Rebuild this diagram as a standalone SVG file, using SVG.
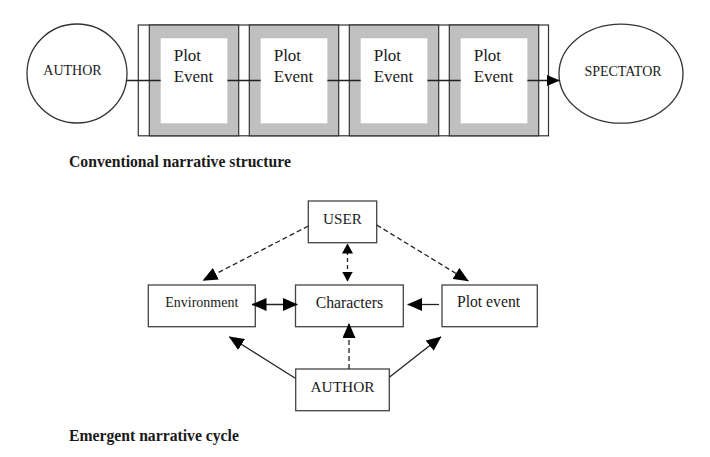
<svg xmlns="http://www.w3.org/2000/svg" width="710" height="457" viewBox="0 0 710 457">
<style>
.t{font-family:"Liberation Serif","Times New Roman",serif;fill:#1a1a1a}
.cap{font-family:"Liberation Serif","Times New Roman",serif;font-weight:bold;font-size:15.7px;fill:#1a1a1a}
.box{fill:#fff;stroke:#444;stroke-width:1.3}
.ell{fill:#fff;stroke:#333;stroke-width:1.3}
.panel{fill:#c0c0c0;stroke:#333;stroke-width:1.2}
.inner{fill:#fff;stroke:none}
.ln{fill:none;stroke:#222;stroke-width:1.3}
.dash{stroke-dasharray:5,3}
.dashs{stroke-dasharray:4,3}
</style>
<defs>
<marker id="arr" viewBox="0 0 15 13" markerWidth="15" markerHeight="13" refX="14.5" refY="6.5" orient="auto-start-reverse" markerUnits="userSpaceOnUse"><path d="M0,0 L15,6.5 L0,13 z" fill="#000"/></marker>
<marker id="arrT" viewBox="0 0 13 11" markerWidth="13" markerHeight="11" refX="12.5" refY="5.5" orient="auto-start-reverse" markerUnits="userSpaceOnUse"><path d="M0,0 L13,5.5 L0,11 z" fill="#000"/></marker>
<marker id="arrS" viewBox="0 0 10 11" markerWidth="10" markerHeight="11" refX="9.5" refY="5.5" orient="auto-start-reverse" markerUnits="userSpaceOnUse"><path d="M0,0 L10,5.5 L0,11 z" fill="#000"/></marker>
</defs>
<rect width="710" height="457" fill="#fff"/>

<!-- Top: conventional narrative structure -->
<g id="author-circle">
<ellipse class="ell" cx="77" cy="73.5" rx="50" ry="49.5"/>
<text class="t" x="72.5" y="75" font-size="14" text-anchor="middle">AUTHOR</text>
</g>
<g id="sequence-frame">
<rect x="138.3" y="25" width="410.2" height="110.8" fill="#fff" stroke="#333" stroke-width="1.2"/>
</g>
<g id="plot-event-1">
<rect class="panel" x="149.3" y="25" width="89.4" height="110.8"/>
<rect class="inner" x="160.7" y="38.3" width="66.7" height="85"/>
<text class="t" font-size="17" x="173.7" y="61">Plot</text>
<text class="t" font-size="17" x="173.7" y="82">Event</text>
</g>
<g id="plot-event-2">
<rect class="panel" x="249.3" y="25" width="89.4" height="110.8"/>
<rect class="inner" x="260.7" y="38.3" width="66.7" height="85"/>
<text class="t" font-size="17" x="273.7" y="61">Plot</text>
<text class="t" font-size="17" x="273.7" y="82">Event</text>
</g>
<g id="plot-event-3">
<rect class="panel" x="349.3" y="25" width="89.4" height="110.8"/>
<rect class="inner" x="360.7" y="38.3" width="66.7" height="85"/>
<text class="t" font-size="17" x="373.7" y="61">Plot</text>
<text class="t" font-size="17" x="373.7" y="82">Event</text>
</g>
<g id="plot-event-4">
<rect class="panel" x="449.3" y="25" width="89.4" height="110.8"/>
<rect class="inner" x="460.7" y="38.3" width="66.7" height="85"/>
<text class="t" font-size="17" x="473.7" y="61">Plot</text>
<text class="t" font-size="17" x="473.7" y="82">Event</text>
</g>
<g id="spectator-ellipse">
<ellipse class="ell" cx="621" cy="73.7" rx="62" ry="49.5"/>
<text class="t" x="623" y="76" font-size="14" text-anchor="middle">SPECTATOR</text>
</g>
<text class="cap" x="69" y="166.5">Conventional narrative structure</text>

<!-- Bottom: emergent narrative cycle -->
<g id="user">
<rect class="box" x="308.3" y="201" width="68.4" height="41.7"/>
<text class="t" x="342.5" y="223.5" font-size="15.2" text-anchor="middle">USER</text>
</g>
<g id="environment">
<rect class="box" x="148.3" y="285" width="107" height="41.7"/>
<text class="t" x="201.8" y="307" font-size="14" text-anchor="middle">Environment</text>
</g>
<g id="characters">
<rect class="box" x="295.5" y="285" width="107.8" height="41.7"/>
<text class="t" x="349.4" y="307.5" font-size="15.8" text-anchor="middle">Characters</text>
</g>
<g id="plot-event">
<rect class="box" x="442" y="285" width="95.3" height="41.7"/>
<text class="t" x="488.5" y="307" font-size="15.7" text-anchor="middle">Plot event</text>
</g>
<g id="author">
<rect class="box" x="295.7" y="369" width="93.6" height="41.7"/>
<text class="t" x="342.5" y="391.7" font-size="15.4" text-anchor="middle">AUTHOR</text>
</g>
<text class="cap" x="69" y="440.5">Emergent narrative cycle</text>

<g id="connectors">
<!-- top chain -->
<line class="ln" x1="127" y1="80.5" x2="160.7" y2="80.5"/>
<line class="ln" x1="227.4" y1="80.5" x2="260.7" y2="80.5"/>
<line class="ln" x1="327.4" y1="80.5" x2="360.7" y2="80.5"/>
<line class="ln" x1="427.4" y1="80.5" x2="460.7" y2="80.5"/>
<line class="ln" x1="527.4" y1="80.5" x2="559.3" y2="80.5" marker-end="url(#arrT)"/>
<!-- bottom cycle -->
<line class="ln dash" x1="308.3" y1="226" x2="203" y2="280.5" marker-end="url(#arr)"/>
<line class="ln dash" x1="376.7" y1="225" x2="468.3" y2="281" marker-end="url(#arr)"/>
<line class="ln dashs" x1="347.5" y1="244" x2="347.5" y2="281" marker-start="url(#arrS)" marker-end="url(#arrS)"/>
<line class="ln" x1="252" y1="304.5" x2="297.3" y2="304.5" marker-start="url(#arr)" marker-end="url(#arr)"/>
<line class="ln" x1="439" y1="304.5" x2="407.7" y2="304.5" marker-end="url(#arr)"/>
<line class="ln dash" x1="349" y1="369" x2="349" y2="323.5" marker-end="url(#arr)"/>
<line class="ln" x1="295.3" y1="378.3" x2="229.3" y2="336.7" marker-end="url(#arr)"/>
<line class="ln" x1="389.3" y1="377.3" x2="441" y2="336.7" marker-end="url(#arr)"/>
</g>
</svg>
